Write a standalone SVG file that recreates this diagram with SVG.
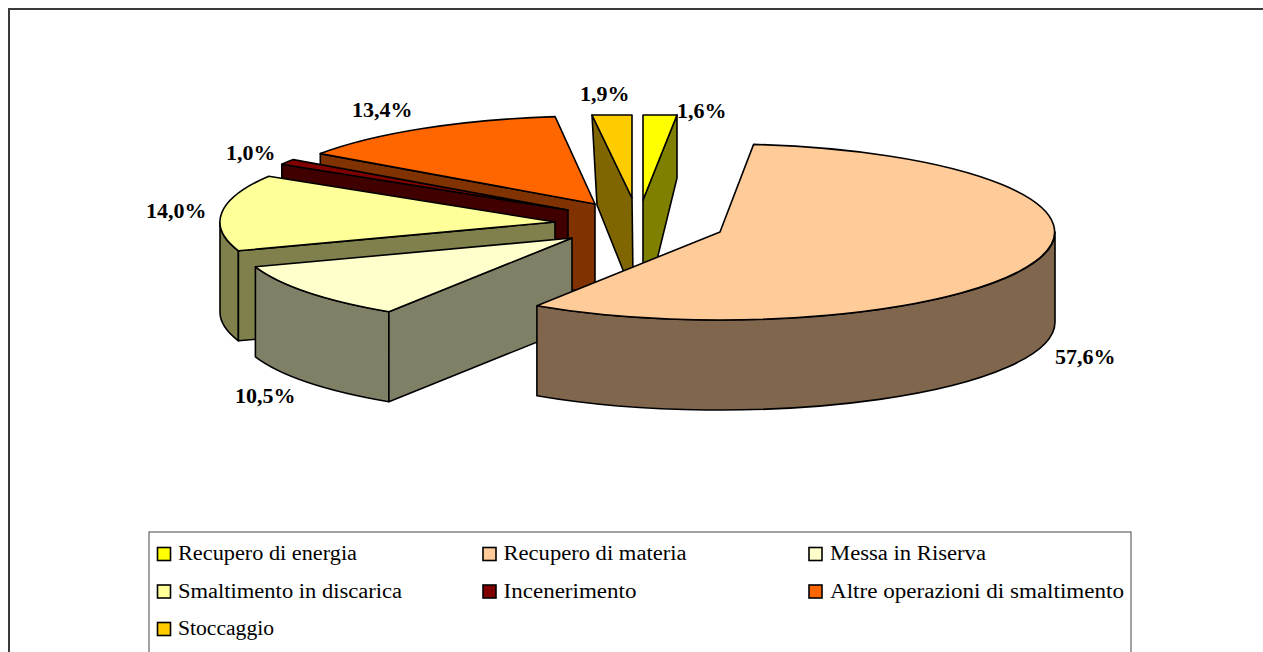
<svg xmlns="http://www.w3.org/2000/svg" width="1263" height="652" viewBox="0 0 1263 652">
<style>
.s{stroke:#000;stroke-width:1.6;stroke-linejoin:round}
.sw{stroke:#000;stroke-width:1.6}
</style>
<rect x="0" y="0" width="1263" height="652" fill="#fff"/>
<rect x="9" y="9" width="1300" height="700" fill="none" stroke="#3a3a3a" stroke-width="2"/>
<g id="stoccaggio">
<path class="s" fill="#806600" d="M592,115 L632,198 L633,278 L627,280 L597,205 Z"/>
<path class="s" fill="#FFCC00" d="M592,115 L632,115 L632,198 Z"/>
</g>
<g id="recupero-energia">
<path class="s" fill="#808000" d="M643,200 L677,115 L677,178 L654,272 L643,272 Z"/>
<path class="s" fill="#FFFF00" d="M643,115 L677,115 L643,200 Z"/>
</g>
<g id="altre-operazioni">
<path class="s" fill="#803300" d="M595,204 L320.3,153.6 L320.3,243.6 L595,294 Z"/>
<path class="s" fill="#FF6600" d="M595,204 L320.3,153.6 A335,88 0 0 1 555.1,116.6 Z"/>
</g>
<g id="incenerimento">
<path class="s" fill="#400000" d="M568,210 L281.8,164.2 L281.8,254.2 L568,300 Z"/>
<path class="s" fill="#800000" d="M568,210 L281.8,164.2 A335,88 0 0 1 293.3,159.6 Z"/>
</g>
<g id="smaltimento-discarica">
<path class="s" fill="#80804D" d="M238.4,250.8 A335,88 0 0 1 220,222 L220,312 A335,88 0 0 0 238.4,340.8 Z"/>
<path class="s" fill="#80804D" d="M555,222 L238.4,250.8 L238.4,340.8 L555,312 Z"/>
<path class="s" fill="#FFFF99" d="M555,222 L238.4,250.8 A335,88 0 0 1 268.8,176.2 Z"/>
</g>
<g id="messa-in-riserva">
<path class="s" fill="#808066" d="M388.9,311.7 A335,88 0 0 1 255.4,266.8 L255.4,356.8 A335,88 0 0 0 388.9,401.7 Z"/>
<path class="s" fill="#808066" d="M572,238 L388.9,311.7 L388.9,401.7 L572,328 Z"/>
<path class="s" fill="#FFFFCC" d="M572,238 L388.9,311.7 A335,88 0 0 1 255.4,266.8 Z"/>
</g>
<g id="recupero-materia">
<path class="s" fill="#80664D" d="M1055,232 A335,88 0 0 1 536.9,305.7 L536.9,395.7 A335,88 0 0 0 1055,322 Z"/>
<path class="s" fill="#FFCC99" d="M720,232 L753.6,144.4 A335,88 0 1 1 536.9,305.7 Z"/>
</g>
<g id="labels" font-family="Liberation Serif, Times New Roman, DejaVu Serif, serif" font-weight="bold" font-size="22" fill="#000">
<text x="580" y="101">1,9%</text>
<text x="677" y="118">1,6%</text>
<text x="352" y="117">13,4%</text>
<text x="226" y="160">1,0%</text>
<text x="146" y="218">14,0%</text>
<text x="235" y="403">10,5%</text>
<text x="1055" y="364">57,6%</text>
</g>
<g id="legend" font-family="Liberation Serif, Times New Roman, DejaVu Serif, serif" font-size="20" fill="#000">
<rect x="149" y="532" width="982" height="140" fill="#fff" stroke="#444" stroke-width="1"/>
<rect class="sw" x="157.5" y="547.5" width="13" height="13" fill="#FFFF00"/>
<text x="178" y="559.5" textLength="179" lengthAdjust="spacingAndGlyphs">Recupero di energia</text>
<rect class="sw" x="483" y="547.5" width="13" height="13" fill="#FFCC99"/>
<text x="503.5" y="559.5" textLength="183" lengthAdjust="spacingAndGlyphs">Recupero di materia</text>
<rect class="sw" x="809" y="547.5" width="13" height="13" fill="#FFFFCC"/>
<text x="830" y="559.5" textLength="156" lengthAdjust="spacingAndGlyphs">Messa in Riserva</text>
<rect class="sw" x="157.5" y="585" width="13" height="13" fill="#FFFF99"/>
<text x="178" y="597.5" textLength="224" lengthAdjust="spacingAndGlyphs">Smaltimento in discarica</text>
<rect class="sw" x="483" y="585" width="13" height="13" fill="#800000"/>
<text x="503.5" y="597.5" textLength="133" lengthAdjust="spacingAndGlyphs">Incenerimento</text>
<rect class="sw" x="809" y="585" width="13" height="13" fill="#FF6600"/>
<text x="830" y="597.5" textLength="294" lengthAdjust="spacingAndGlyphs">Altre operazioni di smaltimento</text>
<rect class="sw" x="157.5" y="622.5" width="13" height="13" fill="#FFCC00"/>
<text x="178" y="635" textLength="96" lengthAdjust="spacingAndGlyphs">Stoccaggio</text>
</g>
</svg>
